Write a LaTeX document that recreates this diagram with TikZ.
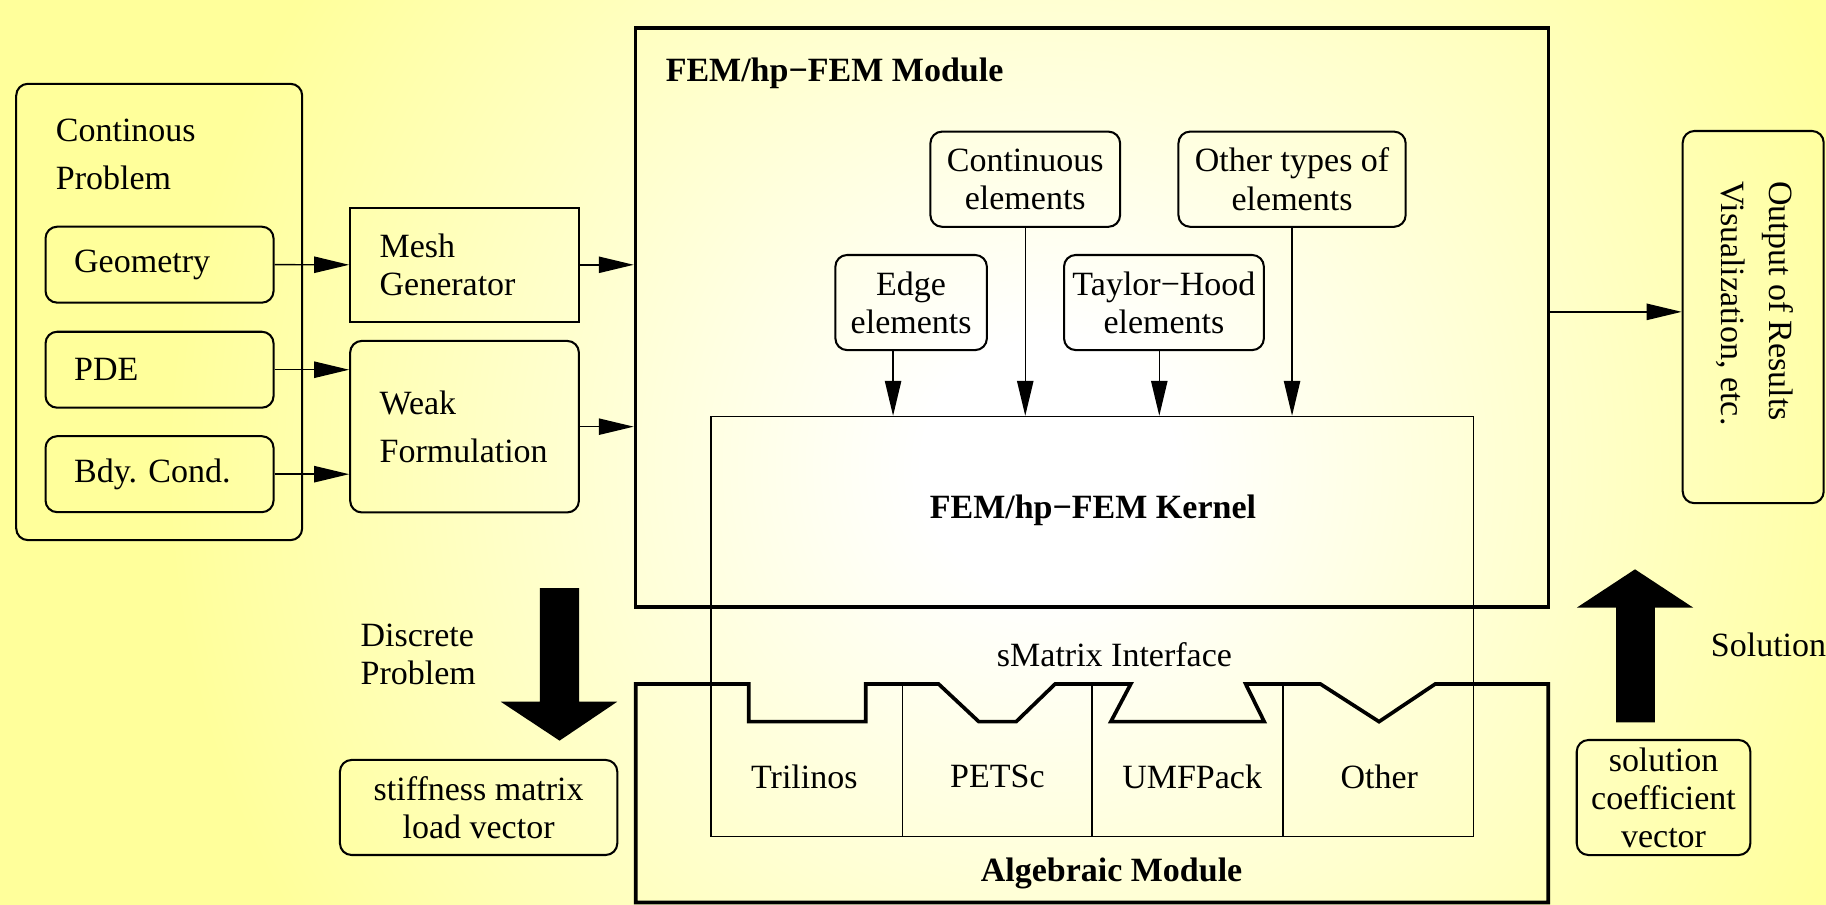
\documentclass[tikz,border=0pt]{standalone}
\usepackage{fontspec}
\setmainfont{Liberation Serif}
\usetikzlibrary{arrows.meta}
\definecolor{bgyellow}{RGB}{255,255,155}
\pgfdeclareradialshading{bgglow}{\pgfpoint{0bp}{0bp}}{color(0bp)=(white); color(3bp)=(white); color(21bp)=(bgyellow); color(50bp)=(bgyellow)}

\begin{document}
\begin{tikzpicture}[x=0.01cm, y=-0.01cm,
        every node/.style={font=\fontsize{8.3}{9.3}\selectfont},
        wide/.style={font=\fontsize{8.3}{11.6}\selectfont},
        title/.style={font=\fontsize{8.3}{9.3}\selectfont\bfseries},
        box/.style={draw, line width=0.5pt, rounded corners=0.1cm, inner sep=1pt, align=center},
        leftbox/.style={box, align=left, inner xsep=0.246cm, text width=1.465cm},
        module/.style={draw, line width=0.9pt},
        hairline/.style={draw, line width=0.35pt},
        arr/.style={-{Triangle[length=0.3cm, width=0.14cm]}, line width=0.35pt}
    ]
    \useasboundingbox (0,0) rectangle (1568,777);
    \begin{scope}
        \clip (0,0) rectangle (1568,777);
        \fill[bgyellow] (0,0) rectangle (1568,777);
        \shade[shading=bgglow] (900,400) circle[radius=9cm];
    \end{scope}

    % continuous problem
    \node[box, minimum width=2.454cm, minimum height=3.916cm] (cp) at (136.7,267.9) {};
    \node[wide, align=left, anchor=west, inner sep=0pt] (cptitle) at (47.3,132.7) {Continous\\Problem};
    \node[leftbox, minimum height=0.652cm] (geom) at (137,227.3) {Geometry};
    \node[leftbox, minimum height=0.652cm] (pde) at (137,317.5) {PDE};
    \node[leftbox, minimum height=0.652cm] (bdy) at (137,407.2) {Bdy.\ Cond.};
    \node[leftbox, sharp corners, inner xsep=0.253cm, text width=1.457cm, minimum height=0.982cm] (mesh) at (398.9,227.4) {Mesh\\Generator};
    \node[leftbox, wide, inner xsep=0.253cm, text width=1.457cm, minimum height=1.472cm] (weak) at (398.9,366.4) {Weak\\Formulation};

    % FEM module
    \node[module, minimum width=7.835cm, minimum height=4.967cm] (fem) at (937.75,272.65) {};
    \node[title, anchor=west, inner sep=0pt] (femtitle) at (571,63) {FEM/hp−FEM Module};
    \node[box, minimum width=1.628cm, minimum height=0.817cm] (cont) at (880.4,153.9) {Continuous\\elements};
    \node[box, minimum width=1.95cm, minimum height=0.817cm] (other) at (1109.5,153.9) {Other types of\\elements};
    \node[box, minimum width=1.3cm, minimum height=0.816cm] (edge) at (782.4,259.8) {Edge\\elements};
    \node[box, minimum width=1.715cm, minimum height=0.816cm] (taylor) at (999.5,259.8) {Taylor−Hood\\elements};
    \node[hairline, minimum width=6.544cm, minimum height=3.602cm] (kernel) at (938,537.9) {};
    \node[title] (kerneltitle) at (938.5,438) {FEM/hp−FEM Kernel};

    % algebraic module
    \draw[line width=0.9pt] (546,587.4) -- (643,587.4) -- (643,619.7) -- (743.4,619.7) -- (743.4,587.4)
        -- (806,587.4) -- (840.5,619.7) -- (872.6,619.7) -- (906,587.4)
        -- (971,587.4) -- (953.9,619.7) -- (1085.6,619.7) -- (1069.7,587.4)
        -- (1133.9,587.4) -- (1184.2,619.7) -- (1232.4,587.4)
        -- (1329.5,587.4) -- (1329.5,775) -- (546,775) -- cycle;
    \foreach \x in {775,938,1101.8}
        \draw[line width=0.45pt] (\x,587.4) -- (\x,718);
    \foreach \x/\name/\txt in {690.7/tri/Trilinos, 856.5/petsc/PETSc, 1023.7/umf/UMFPack, 1184.4/oth/Other}
        \node (\name) at (\x,667) {\txt};
    \node (smatrix) at (957,562.5) {sMatrix Interface};
    \node[title] (algtitle) at (954.5,750) {Algebraic Module};

    % output
    \node[box, minimum width=1.21cm, minimum height=3.194cm] (out) at (1505.5,272.3) {};
    \node[wide, rotate=-90, align=left, inner sep=0pt] (outtext) at (1507,260.5) {Output of Results\\Visualization, etc.};

    % discrete problem and solution
    \node[align=left, anchor=west, inner sep=0pt] (discrete) at (309,562) {Discrete\\Problem};
    \node[box, minimum width=2.38cm, minimum height=0.816cm] (stiff) at (411,693.4) {stiffness matrix\\load vector};
    \fill (463.7,505) -- (497.2,505) -- (497.2,602.6) -- (530,602.6) -- (480.5,636) -- (430,602.6) -- (463.7,602.6) -- cycle;
    \node[anchor=west, inner sep=0pt] (solution) at (1468.5,554) {Solution};
    \node[box, minimum width=1.49cm, minimum height=0.987cm] (sol) at (1428.5,684.85) {solution\\coefficient\\vector};
    \fill (1387.7,620.3) -- (1421,620.3) -- (1421,521.8) -- (1454,521.8) -- (1404,488.9) -- (1354,521.8) -- (1387.7,521.8) -- cycle;

    % connectors
    \coordinate (edgeout) at ([xshift=-0.155cm]edge.south);
    \coordinate (taylorout) at ([xshift=-0.04cm]taylor.south);
    \coordinate (outin) at ([yshift=0.045cm]out.west);
    \draw[arr] (geom.east) -- (mesh.west);
    \draw[arr] (pde.east) -- (pde.east -| weak.west);
    \draw[arr] (bdy.east) -- (bdy.east -| weak.west);
    \draw[arr] (mesh.east) -- (mesh.east -| fem.west);
    \draw[arr] (weak.east) -- (weak.east -| fem.west);
    \draw[arr] (edgeout) -- (edgeout |- kernel.north);
    \draw[arr] (cont.south) -- (cont.south |- kernel.north);
    \draw[arr] (taylorout) -- (taylorout |- kernel.north);
    \draw[arr] (other.south) -- (other.south |- kernel.north);
    \draw[arr] (outin -| fem.east) -- (outin);
\end{tikzpicture}
\end{document}
